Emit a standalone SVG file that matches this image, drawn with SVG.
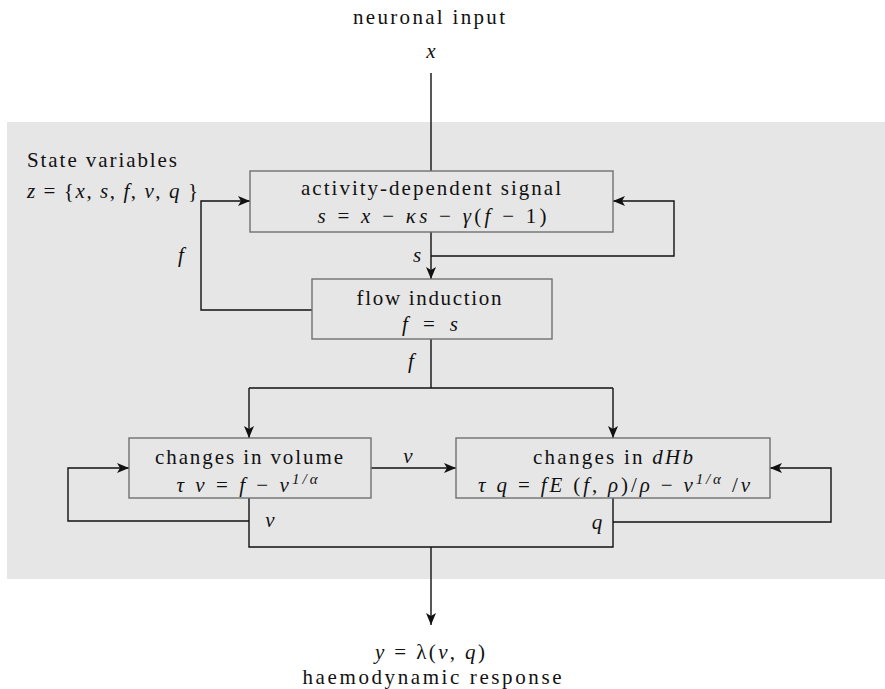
<svg xmlns="http://www.w3.org/2000/svg" width="885" height="689" viewBox="0 0 885 689">
  <style>
    .box { fill: #e6e6e6; stroke: #707070; stroke-width: 1.4; }
    .ln { fill: none; stroke: #111; stroke-width: 1.4; }
    .c { text-anchor: middle; }
    .i { font-style: italic; }
  </style>
  <defs>
    <marker id="arr" viewBox="0 0 12 10" refX="12" refY="5" markerWidth="12" markerHeight="10" markerUnits="userSpaceOnUse" orient="auto">
      <path d="M0,0 L12,5 L0,10 L3,5 Z" fill="#111"/>
    </marker>
  </defs>

  <!-- shaded state-variable region -->
  <rect x="7" y="122" width="878" height="457" fill="#e6e6e6"/>

  <!-- connectors -->
  <g id="connectors">
    <path class="ln" d="M431,73 V171"/>
    <path class="ln" d="M431,232 V279" marker-end="url(#arr)"/>
    <path class="ln" d="M431,256 H674 V201 H613" marker-end="url(#arr)"/>
    <path class="ln" d="M312,310 H201 V201 H250" marker-end="url(#arr)"/>
    <path class="ln" d="M431,339 V388"/>
    <path class="ln" d="M249,388 H613"/>
    <path class="ln" d="M249,388 V438" marker-end="url(#arr)"/>
    <path class="ln" d="M613,388 V438" marker-end="url(#arr)"/>
    <path class="ln" d="M371,468 H456" marker-end="url(#arr)"/>
    <path class="ln" d="M249,498 V547 H613 V498"/>
    <path class="ln" d="M249,521 H68 V468 H129" marker-end="url(#arr)"/>
    <path class="ln" d="M613,522 H831 V468 H770" marker-end="url(#arr)"/>
    <path class="ln" d="M431,547 V625" marker-end="url(#arr)"/>
  </g>

  <g font-family="Liberation Serif, DejaVu Serif, serif" font-size="21" fill="#111">
    <!-- connector labels -->
    <g id="edge-labels">
      <text class="c i" x="417" y="262">s</text>
      <text class="c i" x="181" y="262">f</text>
      <text class="c i" x="411" y="368">f</text>
      <text class="c i" x="408" y="463">v</text>
      <text class="c i" x="270" y="527">v</text>
      <text class="c i" x="597" y="529">q</text>
    </g>

    <!-- input / output -->
    <g id="input">
      <text class="c" x="429" y="24" textLength="152" lengthAdjust="spacing">neuronal input</text>
      <text class="c i" x="431" y="58">x</text>
    </g>
    <g id="output">
      <text class="c" x="430" y="659" textLength="110" lengthAdjust="spacing"><tspan class="i">y</tspan> = λ(<tspan class="i">v</tspan>, <tspan class="i">q</tspan>)</text>
      <text class="c" x="432" y="684" textLength="259" lengthAdjust="spacing">haemodynamic response</text>
    </g>

    <g id="state-vars">
      <text x="27" y="167" textLength="150" lengthAdjust="spacing">State variables</text>
      <text x="27" y="198" textLength="171" lengthAdjust="spacing"><tspan class="i">z</tspan> = {<tspan class="i">x</tspan>, <tspan class="i">s</tspan>, <tspan class="i">f</tspan>, <tspan class="i">v</tspan>, <tspan class="i">q</tspan> }</text>
    </g>

    <g id="signal">
      <rect class="box" x="250" y="171" width="363" height="61"/>
      <text class="c" x="431" y="195" textLength="260" lengthAdjust="spacing">activity-dependent signal</text>
      <text class="c" x="432" y="223" textLength="229" lengthAdjust="spacing"><tspan class="i">s</tspan> = <tspan class="i">x</tspan> − <tspan class="i">κs</tspan> − <tspan class="i">γ</tspan>(<tspan class="i">f</tspan> − 1)</text>
    </g>

    <g id="flow">
      <rect class="box" x="312" y="279" width="240" height="60"/>
      <text class="c" x="429" y="305" textLength="145" lengthAdjust="spacing">flow induction</text>
      <text class="c" x="430" y="331" textLength="56" lengthAdjust="spacing"><tspan class="i">f</tspan> = <tspan class="i">s</tspan></text>
    </g>

    <g id="volume">
      <rect class="box" x="129" y="438" width="242" height="60"/>
      <text class="c" x="249" y="464" textLength="188" lengthAdjust="spacing">changes in volume</text>
      <text class="c" x="247" y="492" textLength="141" lengthAdjust="spacing"><tspan class="i">τ v</tspan> = <tspan class="i">f</tspan> − <tspan class="i">v</tspan><tspan dy="-8" font-size="15" class="i">1/α</tspan></text>
    </g>

    <g id="dhb">
      <rect class="box" x="456" y="438" width="314" height="60"/>
      <text class="c" x="613" y="464" textLength="160" lengthAdjust="spacing">changes in <tspan class="i">dHb</tspan></text>
      <text class="c" x="614" y="492" textLength="272" lengthAdjust="spacing"><tspan class="i">τ q</tspan> = <tspan class="i">fE</tspan> (<tspan class="i">f</tspan>, <tspan class="i">ρ</tspan>)/<tspan class="i">ρ</tspan> − <tspan class="i">v</tspan><tspan dy="-8" font-size="15" class="i">1/α</tspan><tspan dy="8"> /</tspan><tspan class="i">v</tspan></text>
    </g>
  </g>
</svg>
